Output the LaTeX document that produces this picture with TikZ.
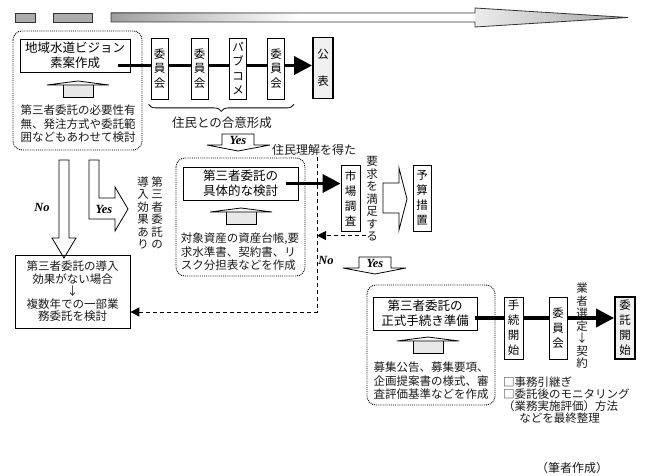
\documentclass[tikz,border=0pt]{standalone}
\usepackage{fontspec}
\newfontfamily\jp{Noto Sans CJK JP}
\newfontfamily\lat{Liberation Serif}
\usetikzlibrary{arrows.meta,decorations.pathreplacing,backgrounds}
\tikzset{
  jtext/.style={font=\jp\fontsize{11.5}{13.5}\selectfont, text=black!90, inner sep=0pt, align=center},
  ttl/.style={draw, line width=0.8pt, inner sep=0pt, align=center, font=\jp\fontsize{12.5}{15}\selectfont},
  vtext/.style={jtext, font=\jp\fontsize{11.5}{12.5}\selectfont},
  vbox/.style={draw, line width=0.8pt, fill=white, inner sep=0pt, minimum width=17pt, minimum height=61pt, align=center, font=\jp\fontsize{11.5}{14.5}\selectfont},
  endbox/.style={vbox, line width=1.8pt, fill=gray!12},
  dotbox/.style={densely dotted, line width=0.9pt, rounded corners=9pt},
  flow/.style={line width=3.5pt, -{Triangle[length=18pt,width=18pt]}},
  back/.style={line width=1pt, dash pattern=on 4pt off 3pt, -{Triangle[length=9pt,width=9pt]}},
  blockarr/.style={draw, line width=0.8pt, fill=white},
  yesno/.style={font=\lat\bfseries\itshape\fontsize{12.5}{14}\selectfont, inner sep=0pt},
}
% flat block arrow pointing up: #1 = x, #2 = y of the tip
\newcommand\upblock[2]{%
  \fill[gray!18] (#1-15,#2+4) rectangle (#1+15,#2+16);
  \draw[line width=0.8pt, fill=gray!8] (#1-31,#2+4) -- (#1,#2) -- (#1+31,#2+4) -- cycle;
  \draw[line width=0.8pt] (#1-15,#2+4) -- (#1-15,#2+16) -- (#1+15,#2+16) -- (#1+15,#2+4);
}
\begin{document}
\begin{tikzpicture}[x=1pt,y=-1pt]
\useasboundingbox (0,0) rectangle (650,476);

% time line
\draw[gray!40!black, fill=gray!65] (15,13) rectangle (35,22);
\draw[gray!40!black, fill=gray!65] (53,13) rectangle (92,22);
\shade[left color=gray!75, right color=white] (111,13) rectangle (300,22);
\shade[left color=gray!15, right color=gray!70] (475,8) -- (628,17.5) -- (475,27) -- cycle;
\draw[gray!40!black, line width=0.8pt] (111,13) -- (475,13) -- (475,8) -- (628,17.5) -- (475,27) -- (475,22) -- (111,22) -- cycle;

% row 1
\draw[dotbox] (13,31) rectangle (142,150);
\node[ttl, minimum width=110pt, minimum height=33pt] (chiiki) at (75,55.5) {地域水道ビジョン\\素案作成};
\upblock{78}{81}
\node[jtext, align=left] (hitsuyo) at (78,124) {第三者委託の必要性有\\無、発注方式や委託範\\囲などもあわせて検討};
\node[vbox] (i1) at (159.5,68.5) {委\\員\\会};
\node[vbox] (i2) at (199.5,68.5) {委\\員\\会};
\node[vbox] (pub) at (238,68.5) {パ\\ブ\\コ\\メ};
\node[vbox] (i3) at (276,68.5) {委\\員\\会};
\node[endbox, minimum width=20pt] (kou) at (323,68) {公\\[13pt]表};
\coordinate (l1) at ([xshift=-12pt,yshift=-10pt]chiiki.east);
\begin{pgfonlayer}{background}
\draw[flow] (l1) -- (l1 -| kou.west);
\end{pgfonlayer}
\draw[line width=0.8pt, decorate, decoration={brace, mirror, amplitude=7pt}] ([xshift=-2pt,yshift=-5pt]i1.south west) -- ([xshift=9pt,yshift=-5pt]i3.south east);
\node[jtext, font=\jp\fontsize{12.5}{15}\selectfont] (goui) at (222,123) {住民との合意形成};

\draw[blockarr] (222,134) -- (254,134) -- (254,145) -- (270,145) -- (238,151) -- (207,145) -- (222,145) -- cycle;
\node[yesno] (yes1) at (238,140) {Yes};
\node[jtext, anchor=west, font=\jp\fontsize{12}{14}\selectfont] (rikai) at (272,150) {住民理解を得た};

% left branch
\draw[blockarr] (59,160) -- (69,160) -- (69,238) -- (76,238) -- (64,258) -- (52,238) -- (59,238) -- cycle;
\node[yesno] (no1) at (42,207) {No};
\draw[blockarr] (89,160) -- (99,160) -- (99,198) -- (115,198) -- (115,187) -- (128,209) -- (115,231) -- (115,219) -- (89,219) -- cycle;
\node[yesno] (yes0) at (104,209) {Yes};
\node[vtext] (dai3) at (157,213) {第\\三\\者\\委\\託\\の};
\node[vtext] (donyu) at (143,213) {導\\入\\効\\果\\あ\\り};
\node[draw, line width=0.8pt, minimum width=115pt, minimum height=73pt, inner sep=0pt, jtext, font=\jp\fontsize{11.5}{12.5}\selectfont] (nashi) at (72.5,291.5) {第三者委託の導入\\効果がない場合\\↓\\複数年での一部業\\務委託を検討};

% row 2
\draw[dotbox] (176,158) rectangle (305,276);
\node[ttl, minimum width=115pt, minimum height=33pt] (gutai) at (240.5,183.5) {第三者委託の\\具体的な検討};
\upblock{241}{208}
\node[jtext, align=left] (daicho) at (240,252) {対象資産の資産台帳,要\\求水準書、契約書、リ\\スク分担表などを作成};
\node[vbox, minimum width=19pt, minimum height=66pt, font=\jp\fontsize{11.5}{15}\selectfont] (ichiba) at (350.5,198) {市\\場\\調\\査};
\node[vbox, minimum width=18pt, minimum height=66pt, font=\jp\fontsize{11.5}{15}\selectfont] (yosan) at (422,198) {予\\算\\措\\置};
\begin{pgfonlayer}{background}
\draw[flow] ([xshift=-12pt]gutai.east) -- (gutai.east -| ichiba.west);
\end{pgfonlayer}
\node[vtext] (youkyu) at (372,199) {要\\求\\を\\満\\足\\す\\る};
\draw[blockarr] (383,183) -- (399,183) -- (399,168) -- (407,199) -- (399,230) -- (399,213) -- (383,213) -- cycle;

\coordinate (dtop) at (317,157);
\coordinate (dbend) at (317,312);
\coordinate (ret) at ([yshift=6pt]youkyu.south west);
\draw[back] (ret) -- (ret -| dtop);
\draw[back] (dtop) -- (dbend) -- (dbend -| nashi.east);
\node[yesno] (no2) at (326,260) {No};

\draw[blockarr] (359,257) -- (391,257) -- (391,268) -- (406,268) -- (375,274) -- (343,268) -- (359,268) -- cycle;
\node[yesno] (yes2) at (375,263) {Yes};

% row 3
\draw[dotbox] (367,285) rectangle (495,405);
\node[ttl, minimum width=104pt, minimum height=33pt] (seishiki) at (425,313.5) {第三者委託の\\正式手続き準備};
\upblock{428}{337}
\node[jtext, align=left] (boshu) at (431,381) {募集公告、募集要項、\\企画提案書の様式、審\\査評価基準などを作成};
\node[vbox, minimum width=19pt, minimum height=62pt, font=\jp\fontsize{11.5}{15}\selectfont] (tetsu) at (513.5,328) {手\\続\\開\\始};
\node[vbox, minimum width=18pt, minimum height=62pt, font=\jp\fontsize{11.5}{15}\selectfont] (i4) at (558,328) {委\\員\\会};
\node[endbox, minimum width=20pt, minimum height=62pt, font=\jp\fontsize{11.5}{15}\selectfont] (itaku) at (625,328) {委\\託\\開\\始};
\coordinate (l3) at ([xshift=-2pt,yshift=-4.5pt]seishiki.east);
\begin{pgfonlayer}{background}
\draw[flow] (l3) -- (l3 -| itaku.west);
\end{pgfonlayer}
\node[vtext] (gyosha) at (582,326) {業\\者\\選\\定\\↓\\契\\約};
\node[jtext, align=left, anchor=north west, font=\jp\fontsize{11.5}{12}\selectfont] (jimu) at (503,377) {□事務引継ぎ\\□委託後のモニタリング\\（業務実施評価）方法\\\hspace*{1.4em}などを最終整理};

\node[jtext, font=\jp\fontsize{12}{14}\selectfont] (hissha) at (572,468) {（筆者作成）};
\end{tikzpicture}
\end{document}
